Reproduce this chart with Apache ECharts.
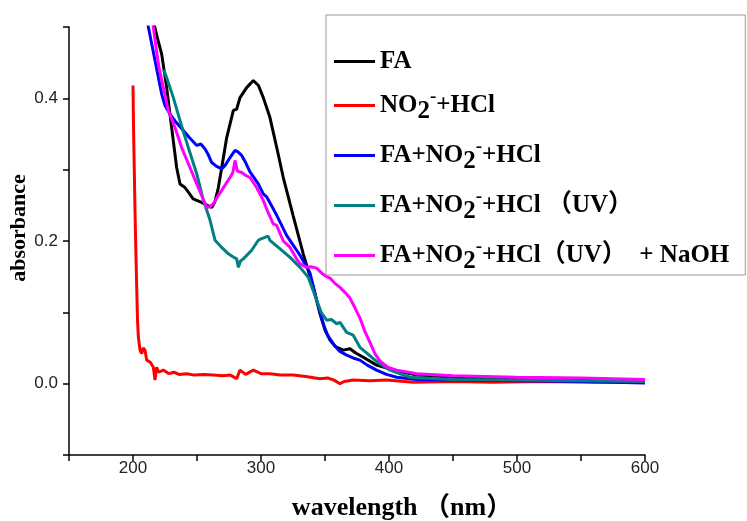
<!DOCTYPE html>
<html><head><meta charset="utf-8">
<script src="https://cdn.jsdelivr.net/npm/echarts@6/dist/echarts.min.js"></script>
<style>html,body{margin:0;padding:0;background:#fff}#c{width:747px;height:521px}</style>
</head><body><div id="c"></div>
<script>
// ---- data ----
const seriesNames = ['FA', 'NO2-+HCl', 'FA+NO2-+HCl', 'FA+NO2-+HCl (UV)', 'FA+NO2-+HCl(UV) + NaOH'];
const legendLabels = [
  '{b|FA}',
  '{b|NO}{s|2}{p|-}{b|+HCl}',
  '{b|FA+NO}{s|2}{p|-}{b|+HCl}',
  '{b|FA+NO}{s|2}{p|-}{b|+HCl （UV）}',
  '{b|FA+NO}{s|2}{p|-}{b|+HCl（UV）  + NaOH}'
];
const colors = ['#000000', '#ff0000', '#0000ff', '#008080', '#ff00ff'];

const faWl  = [214, 217, 219, 222.4, 226.3, 230.2, 234.1, 236.7, 240.6, 247, 253.6, 258, 261.5, 264, 266.7, 270, 273.2, 278.4, 281, 283.6, 288.8, 294, 298, 301.8, 307, 312.3, 317.4, 325.2, 333, 340.9, 346.1, 350, 353.9, 358, 364.3, 369.5, 374, 379.9, 390.3, 403.4, 421.6, 450, 480, 520, 560, 600];
const faAbs = [0.56, 0.5, 0.485, 0.462, 0.415, 0.359, 0.303, 0.28, 0.275, 0.259, 0.254, 0.25, 0.247, 0.255, 0.275, 0.31, 0.345, 0.383, 0.385, 0.401, 0.415, 0.425, 0.418, 0.401, 0.373, 0.331, 0.289, 0.235, 0.182, 0.135, 0.098, 0.075, 0.061, 0.052, 0.047, 0.049, 0.043, 0.037, 0.026, 0.019, 0.012, 0.009, 0.007, 0.006, 0.005, 0.004];

const redWl  = [200, 200.4, 201, 201.6, 202.3, 202.9, 203.5, 204.2, 205.5, 206.8, 208, 209.4, 210.7, 212, 213.5, 214.6, 215.9, 217.2, 218.5, 220, 223.7, 228, 232, 236, 241.9, 248, 255, 262.7, 270, 276, 281, 283.6, 288, 294, 300, 307, 315, 325.2, 335, 346.1, 352, 357, 361.7, 365, 372, 385, 398, 419, 450, 480, 520, 560, 600];
const redAbs = [0.418, 0.36, 0.3, 0.24, 0.18, 0.135, 0.09, 0.065, 0.047, 0.042, 0.05, 0.047, 0.033, 0.035, 0.03, 0.03, 0.023, 0.005, 0.023, 0.016, 0.019, 0.014, 0.016, 0.013, 0.014, 0.012, 0.013, 0.012, 0.011, 0.012, 0.007, 0.019, 0.013, 0.019, 0.014, 0.014, 0.012, 0.012, 0.01, 0.007, 0.008, 0.005, 0.0, 0.003, 0.005, 0.004, 0.005, 0.002, 0.003, 0.002, 0.003, 0.002, 0.002];

const blueWl  = [209, 212, 217.2, 222.4, 225, 228.9, 233, 239.3, 244, 249.8, 253, 256.3, 258.5, 261.5, 265, 269.3, 272, 275.8, 279.7, 282, 284.9, 288, 291.4, 297.9, 301.8, 304.4, 312.3, 320, 330.5, 338.3, 343.5, 348.7, 352, 356.5, 361, 366.9, 372, 377.3, 383, 390.3, 398, 406, 421.6, 450, 500, 550, 600];
const blueAbs = [0.54, 0.5, 0.453, 0.406, 0.39, 0.378, 0.368, 0.355, 0.345, 0.334, 0.336, 0.329, 0.322, 0.31, 0.305, 0.301, 0.306, 0.317, 0.327, 0.325, 0.32, 0.31, 0.297, 0.28, 0.266, 0.262, 0.236, 0.208, 0.18, 0.155, 0.117, 0.084, 0.068, 0.056, 0.046, 0.04, 0.036, 0.033, 0.026, 0.019, 0.013, 0.009, 0.006, 0.005, 0.004, 0.003, 0.001];

const tealWl  = [224, 226.3, 231.5, 236.7, 243.2, 249.8, 255, 260.2, 264.1, 269.3, 274.5, 278, 281, 282.3, 284, 286.2, 292.7, 297.9, 300, 303.1, 305.5, 307, 313.5, 322.7, 330.5, 337, 343.5, 347, 351.3, 355, 359.1, 361.7, 366.9, 372, 377.3, 382, 387.7, 393, 400.8, 416.4, 450, 500, 550, 600];
const tealAbs = [0.44, 0.429, 0.401, 0.369, 0.331, 0.294, 0.257, 0.229, 0.201, 0.191, 0.182, 0.178, 0.175, 0.163, 0.172, 0.175, 0.187, 0.201, 0.203, 0.205, 0.207, 0.201, 0.191, 0.177, 0.163, 0.149, 0.117, 0.1, 0.089, 0.09, 0.084, 0.086, 0.072, 0.068, 0.051, 0.044, 0.035, 0.028, 0.019, 0.009, 0.006, 0.005, 0.004, 0.003];

const magWl  = [213, 215.9, 219.8, 223.7, 227.6, 232.8, 238, 244.5, 249.8, 254, 257.6, 260, 262.7, 266, 269.3, 272.5, 275.8, 278, 279.7, 281.5, 284.9, 288, 291.4, 296.6, 301.8, 305.5, 309.6, 312.2, 317.4, 322.7, 327.8, 330.5, 335.7, 339, 343.5, 348, 351.3, 353.9, 357.5, 361.7, 365.5, 369.5, 373.5, 377.3, 381, 385.1, 389, 392.9, 399, 406, 421.6, 450, 500, 550, 600];
const magAbs = [0.55, 0.5, 0.448, 0.415, 0.383, 0.359, 0.331, 0.303, 0.28, 0.262, 0.247, 0.248, 0.252, 0.262, 0.271, 0.28, 0.289, 0.296, 0.313, 0.298, 0.296, 0.292, 0.289, 0.275, 0.257, 0.24, 0.224, 0.222, 0.2, 0.191, 0.175, 0.168, 0.163, 0.164, 0.162, 0.154, 0.15, 0.148, 0.141, 0.135, 0.128, 0.12, 0.106, 0.092, 0.074, 0.058, 0.042, 0.032, 0.023, 0.019, 0.014, 0.011, 0.009, 0.008, 0.006];

const xLabelValues = [200, 300, 400, 500, 600];
const yLabelValues = [0.0, 0.2, 0.4];
const xTitle = 'wavelength （nm）';
const yTitle = 'absorbance';

// ---- chart ----
const wlSets = [faWl, redWl, blueWl, tealWl, magWl];
const absSets = [faAbs, redAbs, blueAbs, tealAbs, magAbs];
const serif = "'Liberation Serif', 'Times New Roman', 'Noto Sans CJK SC', serif";
const sans = "'Liberation Sans', Arial, sans-serif";

const chart = echarts.init(document.getElementById('c'), null, {renderer: 'canvas'});
const axisCommon = {
  axisLine: {show: true, onZero: false, lineStyle: {color: '#000', width: 1.5}},
  axisTick: {show: true, inside: false, length: 6, lineStyle: {color: '#000', width: 1.5}},
  splitLine: {show: false},
  nameMoveOverlap: false
};
chart.setOption({
  animation: false,
  backgroundColor: '#fff',
  grid: {left: 69, right: 102, top: 27, bottom: 66, containLabel: false, outerBoundsMode: 'none'},
  xAxis: Object.assign({}, axisCommon, {
    type: 'value', min: 150, max: 600, interval: 50,
    name: xTitle, nameLocation: 'middle', nameGap: 40,
    nameTextStyle: {fontFamily: serif, fontWeight: 'bold', color: '#000', fontSize: 26, padding: [0, 0, 0, 90]},
    axisLabel: {
      margin: 5, color: '#222', fontSize: 17, fontFamily: sans,
      formatter: v => xLabelValues.some(t => Math.abs(t - v) < 1e-6) ? String(v) : ''
    }
  }),
  yAxis: Object.assign({}, axisCommon, {
    type: 'value', min: -0.1, max: 0.5, interval: 0.1,
    name: yTitle, nameLocation: 'middle', nameGap: 39, nameRotate: 90,
    nameTextStyle: {fontFamily: serif, fontWeight: 'bold', color: '#000', fontSize: 22, padding: [0, 0, 0, 26]},
    axisLabel: {
      margin: 11, color: '#222', fontSize: 17, fontFamily: sans,
      formatter: v => yLabelValues.some(t => Math.abs(t - v) < 1e-6) ? v.toFixed(1) : ''
    }
  }),
  legend: {
    orient: 'vertical', left: 326, top: 15,
    padding: [34, 16, 1, 8],
    itemGap: 13, itemWidth: 41, itemHeight: 3, icon: 'rect',
    selectedMode: false,
    borderColor: '#999', borderWidth: 1, backgroundColor: '#fff',
    data: seriesNames,
    formatter: name => legendLabels[seriesNames.indexOf(name)],
    textStyle: {
      color: '#000',
      rich: {
        b: {fontFamily: serif, fontWeight: 'bold', fontSize: 25, lineHeight: 28, color: '#000'},
        s: {fontFamily: serif, fontWeight: 'bold', fontSize: 25, lineHeight: 28, padding: [12, 0, 0, 0], color: '#000'},
        p: {fontFamily: serif, fontWeight: 'bold', fontSize: 19, lineHeight: 20, padding: [0, 0, 16, 0], color: '#000'}
      }
    }
  },
  series: seriesNames.map((n, i) => ({
    name: n, type: 'line', showSymbol: false, symbol: 'none',
    clip: true,
    color: colors[i],
    lineStyle: {color: colors[i], width: 3},
    data: wlSets[i].map((w, j) => [w, absSets[i][j]])
  }))
});
</script></body></html>
